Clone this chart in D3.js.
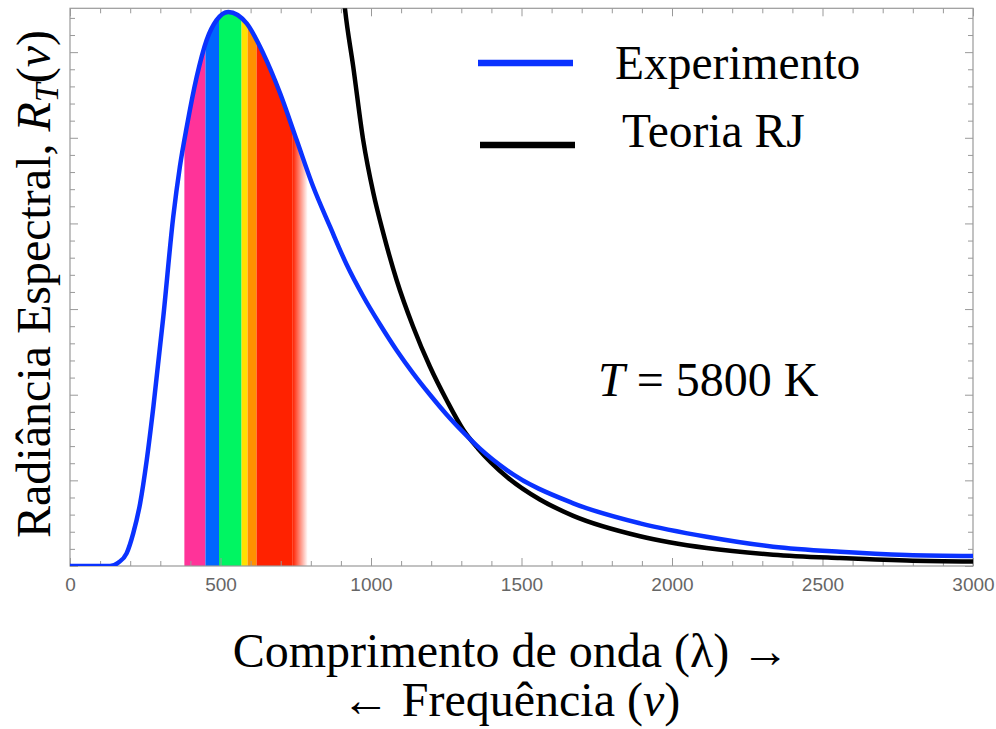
<!DOCTYPE html>
<html>
<head>
<meta charset="utf-8">
<script src="https://cdn.jsdelivr.net/npm/d3@7"></script>
<style>
  html, body { margin: 0; padding: 0; background: #fff; }
  svg { display: block; }
  .serif { font-family: "Liberation Serif", "Times New Roman", serif; fill: #000; }
  .tick text { font-family: "Liberation Sans", Arial, sans-serif; font-size: 19px; fill: #666; }
  .tick line { stroke: #999; }
</style>
</head>
<body>
<div id="chart"></div>
<script>
// Wavelength (nm) and relative radiance
const expWavelength = [0, 133, 160, 188, 210, 233, 255, 277, 310, 343, 365, 388, 421, 454, 487, 526,
  587, 642, 698, 753, 808, 864, 919, 974, 1030, 1085, 1140, 1196, 1251, 1307, 1362, 1451, 1672, 1894, 2115, 2336, 2558, 2780, 3000];
const expRadiance = [0, 0, 0.19, 0.74, 1.91, 3.66, 6.19, 9.30, 14.55, 20.39, 23.31, 25.65, 28.56, 30.71, 31.87, 32.35,
  31.68, 29.93, 27.6, 24.87, 22.14, 19.81, 17.6, 15.75, 14.1, 12.6, 11.25, 10.0, 8.85, 7.8, 6.85, 5.6, 3.66, 2.49, 1.71, 1.13, 0.83, 0.64, 0.58];

const rjWavelength = [897, 914, 941, 974, 1008, 1041, 1085, 1140, 1196, 1251, 1307, 1356, 1451, 1561, 1672, 1894, 2115, 2336, 2558, 2780, 3000];
const rjRadiance = [35.5, 32.46, 29.15, 24.87, 21.76, 19.42, 16.70, 13.97, 11.63, 9.69, 7.94, 6.85, 5.21, 3.88, 2.93, 1.74, 1.05, 0.66, 0.46, 0.32, 0.26];

// visible bands (nm)
const bandStart = [380, 450, 495, 570, 590, 620];
const bandEnd = [450, 495, 570, 590, 620, 740];
const bandColor = ["#ff3399", "#0066ff", "#00f562", "#ffe000", "#ff9000", "#ff2200"];
const fadeRange = [740, 790];

const xTicksMajor = [0, 500, 1000, 1500, 2000, 2500, 3000];
const xTicksMinor = d3.range(0, 3001, 100);
const yTicksMajor = [0, 5, 10, 15, 20, 25, 30];
const yTicksMinor = d3.range(0, 33, 1);

const W = 996, H = 729;
const plotLeft = 70, plotRight = 973, plotTop = 8.3, plotBottom = 566;

const svg = d3.select("#chart").append("svg")
  .attr("width", W).attr("height", H);

const x = d3.scaleLinear().domain([0, 3000]).range([plotLeft, plotRight]);
const y = d3.scaleLinear().domain([0, 32.56]).range([plotBottom, plotTop]);

const exp = expWavelength.map((d, i) => ({ x: d, y: expRadiance[i] }));
const rj = rjWavelength.map((d, i) => ({ x: d, y: rjRadiance[i] }));

const defs = svg.append("defs");
defs.append("clipPath").attr("id", "plotClip")
  .append("rect").attr("x", plotLeft).attr("y", plotTop)
  .attr("width", plotRight - plotLeft).attr("height", plotBottom - plotTop);

const area = d3.area()
  .x(d => x(d.x)).y0(y(0)).y1(d => y(d.y))
  .curve(d3.curveMonotoneX);
defs.append("clipPath").attr("id", "underCurve")
  .append("path").datum(exp).attr("d", area);

const grad = defs.append("linearGradient")
  .attr("id", "redFade")
  .attr("gradientUnits", "userSpaceOnUse")
  .attr("x1", x(fadeRange[0])).attr("x2", x(fadeRange[1]))
  .attr("y1", 0).attr("y2", 0);
grad.append("stop").attr("offset", "0%").attr("stop-color", "#ff2200").attr("stop-opacity", 1);
grad.append("stop").attr("offset", "100%").attr("stop-color", "#ff2200").attr("stop-opacity", 0);

// colour bands under the curve
const bands = svg.append("g").attr("clip-path", "url(#underCurve)");
bands.selectAll("rect.band")
  .data(bandStart)
  .enter().append("rect")
  .attr("class", "band")
  .attr("x", (d, i) => x(d))
  .attr("width", (d, i) => x(bandEnd[i]) - x(d))
  .attr("y", y(32.56))
  .attr("height", y(0) - y(32.56))
  .attr("fill", (d, i) => bandColor[i]);
bands.append("rect")
  .attr("x", x(fadeRange[0]))
  .attr("width", x(fadeRange[1]) - x(fadeRange[0]))
  .attr("y", y(32.56))
  .attr("height", y(0) - y(32.56))
  .attr("fill", "url(#redFade)");

// axes: ticks inward on all four sides
function addAxis(axisFn, scale, values, size, translate, labels) {
  const g = svg.append("g")
    .attr("transform", translate)
    .call(axisFn(scale).tickValues(values).tickSize(-size).tickPadding(12)
      .tickFormat(labels ? d3.format("d") : ""));
  g.select(".domain").remove();
  return g;
}
addAxis(d3.axisBottom, x, xTicksMinor.filter(v => v % 500), 5, `translate(0,${plotBottom})`, false);
addAxis(d3.axisBottom, x, xTicksMajor, 8, `translate(0,${plotBottom})`, true);
addAxis(d3.axisTop, x, xTicksMinor.filter(v => v % 500), 5, `translate(0,${plotTop})`, false);
addAxis(d3.axisTop, x, xTicksMajor, 8, `translate(0,${plotTop})`, false);
addAxis(d3.axisLeft, y, yTicksMinor.filter(v => v % 5), 5, `translate(${plotLeft},0)`, false);
addAxis(d3.axisLeft, y, yTicksMajor, 8, `translate(${plotLeft},0)`, false);
addAxis(d3.axisRight, y, yTicksMinor.filter(v => v % 5), 5, `translate(${plotRight},0)`, false);
addAxis(d3.axisRight, y, yTicksMajor, 8, `translate(${plotRight},0)`, false);

svg.append("rect")
  .attr("x", plotLeft).attr("y", plotTop)
  .attr("width", plotRight - plotLeft).attr("height", plotBottom - plotTop)
  .attr("fill", "none").attr("stroke", "#999").attr("stroke-width", 1.2);

// curves
const line = d3.line().x(d => x(d.x)).y(d => y(d.y)).curve(d3.curveMonotoneX);
const curves = svg.append("g").attr("clip-path", "url(#plotClip)");
curves.append("path").datum(rj)
  .attr("d", line).attr("fill", "none")
  .attr("stroke", "#000").attr("stroke-width", 4.5);
curves.append("path").datum(exp)
  .attr("d", line).attr("fill", "none")
  .attr("stroke", "#0a32ff").attr("stroke-width", 4.5);

// legend
const legend = [
  { label: "Experimento", color: "#0a32ff", ly: 63, tx: 615, ty: 79, x1: 478, x2: 573 },
  { label: "Teoria RJ", color: "#000", ly: 145, tx: 622, ty: 147, x1: 480, x2: 575 }
];
legend.forEach(d => {
  svg.append("line")
    .attr("x1", d.x1).attr("x2", d.x2).attr("y1", d.ly).attr("y2", d.ly)
    .attr("stroke", d.color).attr("stroke-width", 6.5);
  svg.append("text").attr("class", "serif")
    .attr("x", d.tx).attr("y", d.ty)
    .style("font-size", "47.5px")
    .text(d.label);
});

// temperature label
const tLabel = svg.append("text").attr("class", "serif")
  .attr("x", 598).attr("y", 396)
  .style("font-size", "48px");
tLabel.append("tspan").style("font-style", "italic").text("T");
tLabel.append("tspan").text(" = 5800 K");

// x title
svg.append("text").attr("class", "serif")
  .attr("x", 511).attr("y", 667)
  .attr("text-anchor", "middle")
  .style("font-size", "48px")
  .text("Comprimento de onda (λ) →");
const xt2 = svg.append("text").attr("class", "serif")
  .attr("x", 511).attr("y", 716)
  .attr("text-anchor", "middle")
  .style("font-size", "48px");
xt2.append("tspan").text("← Frequência (");
xt2.append("tspan").style("font-style", "italic").text("ν");
xt2.append("tspan").text(")");

// y title
const yt = svg.append("text").attr("class", "serif")
  .attr("transform", "translate(50,284) rotate(-90)")
  .attr("text-anchor", "middle")
  .style("font-size", "48px");
yt.append("tspan").text("Radiância Espectral, ");
yt.append("tspan").style("font-style", "italic").text("R");
yt.append("tspan").style("font-style", "italic").style("font-size", "34px").attr("dy", 8).text("T");
yt.append("tspan").attr("dy", -8).text("(");
yt.append("tspan").style("font-style", "italic").text("ν");
yt.append("tspan").text(")");
</script>
</body>
</html>
